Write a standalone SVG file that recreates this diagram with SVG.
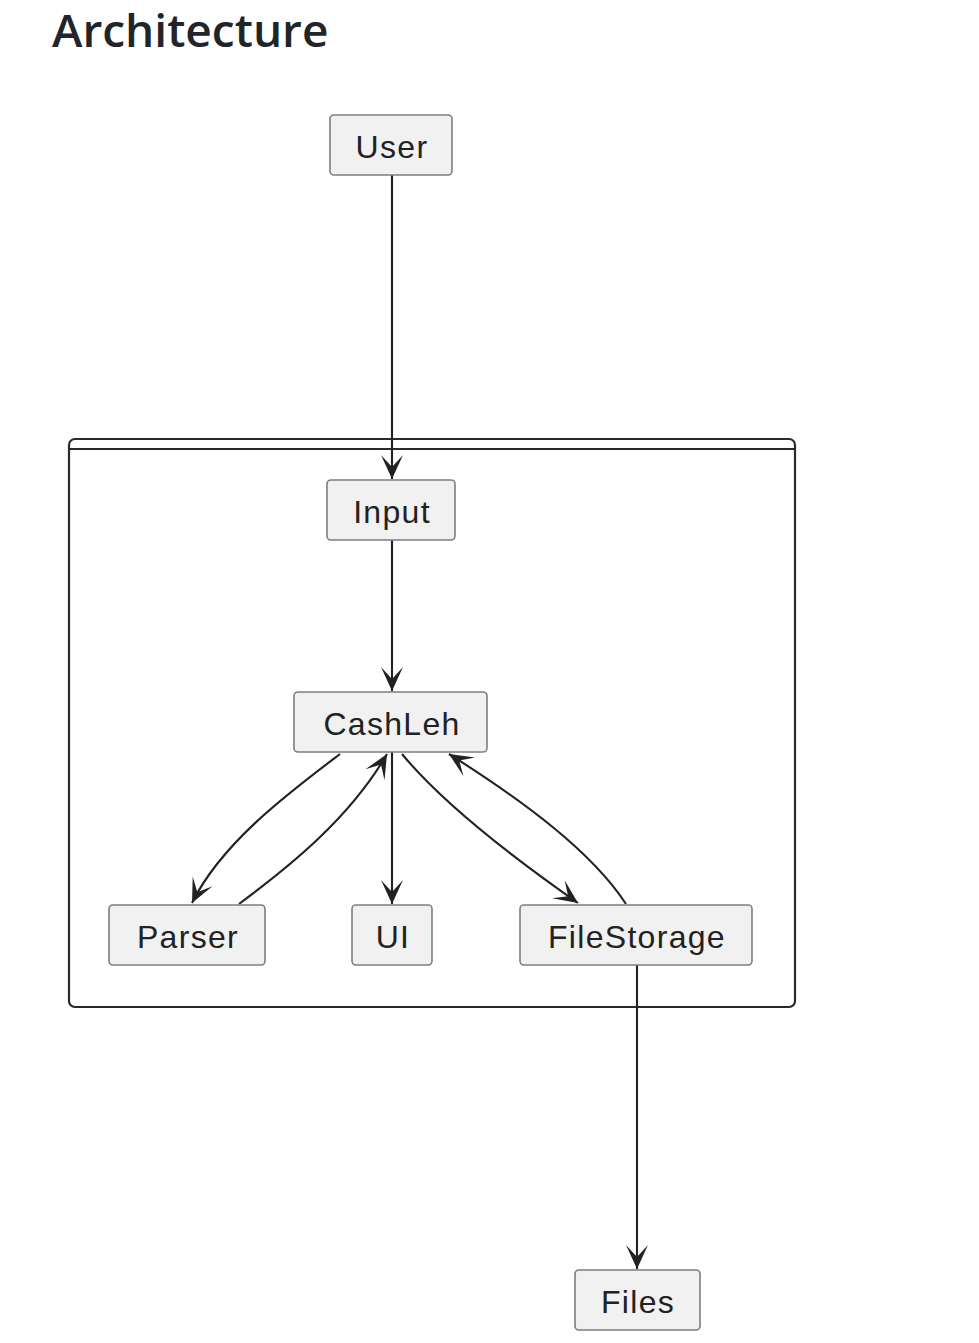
<svg xmlns="http://www.w3.org/2000/svg" width="979" height="1343" viewBox="0 0 979 1343">
<style>
.title{font-family:"Open Sans","Noto Sans","Liberation Sans",sans-serif;font-weight:600;font-size:46px;fill:#212529}
.node rect{fill:#F1F1F1;stroke:#7d7d7d;stroke-width:1.6}
.node text{font-family:"Liberation Sans",Arial,sans-serif;font-size:32px;letter-spacing:1.3px;fill:#222;text-anchor:middle}
.edge{fill:none;stroke:#222;stroke-width:2.1;marker-end:url(#arr)}
.frame{fill:none;stroke:#2a2a2a;stroke-width:2.2}
</style>
<defs>
<marker id="arr" markerUnits="userSpaceOnUse" markerWidth="40" markerHeight="40" refX="0" refY="0" viewBox="-30 -15 40 30" orient="auto" overflow="visible">
<path d="M0,0 L-24,-11 L-12,0 L-24,11 Z" fill="#222"/>
</marker>
</defs>
<rect width="979" height="1343" fill="#fff"/>
<text class="title" x="52" y="47">Architecture</text>
<g id="container">
<rect class="frame" x="69" y="439" width="726" height="568" rx="6"/>
<line class="frame" x1="69" y1="449" x2="795" y2="449"/>
</g>
<g id="connectors">
<path class="edge" d="M392,175 L392,479"/>
<path class="edge" d="M392,540 L392,691"/>
<path class="edge" d="M340,754 C290,792 222,842 192,903"/>
<path class="edge" d="M239,904 C290,866 350,818 387,754"/>
<path class="edge" d="M392,752 L392,904"/>
<path class="edge" d="M402,754 C440,800 505,852 578,903"/>
<path class="edge" d="M626,904 C592,852 525,802 449,754"/>
<path class="edge" d="M637,965 L637,1269"/>
</g>
<g id="User" class="node"><rect x="330" y="115" width="122" height="60" rx="4"/><text x="392" y="158">User</text></g>
<g id="Input" class="node"><rect x="327" y="480" width="128" height="60" rx="4"/><text x="392" y="523">Input</text></g>
<g id="CashLeh" class="node"><rect x="294" y="692" width="193" height="60" rx="4"/><text x="392" y="735">CashLeh</text></g>
<g id="Parser" class="node"><rect x="109" y="905" width="156" height="60" rx="4"/><text x="188" y="948">Parser</text></g>
<g id="UI" class="node"><rect x="352" y="905" width="80" height="60" rx="4"/><text x="393" y="948">UI</text></g>
<g id="FileStorage" class="node"><rect x="520" y="905" width="232" height="60" rx="4"/><text x="637" y="948">FileStorage</text></g>
<g id="Files" class="node"><rect x="575" y="1270" width="125" height="60" rx="4"/><text x="638" y="1313">Files</text></g>
</svg>
